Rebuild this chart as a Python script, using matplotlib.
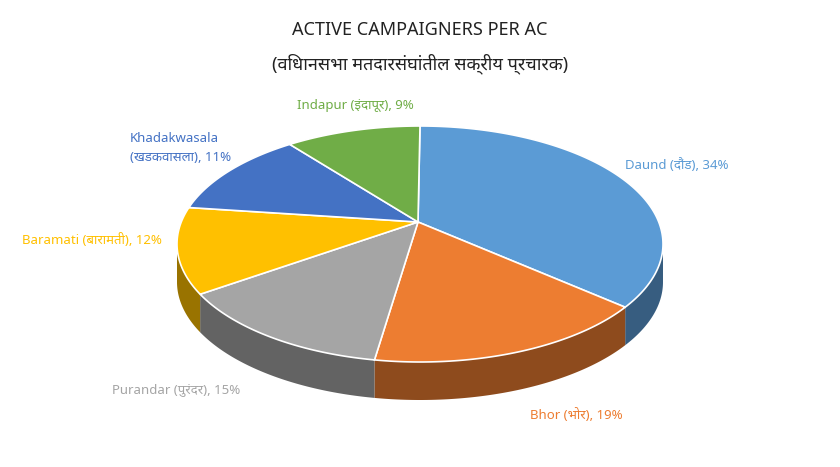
import numpy as np
import matplotlib
matplotlib.use("Agg")
import matplotlib.pyplot as plt
from matplotlib.patches import Polygon
import matplotlib.colors as mc

labels = ["Daund (दौंड)", "Bhor (भोर)", "Purandar (पुरंदर)", "Baramati (बारामती)",
          "Khadakwasala\n(खडकवासला)", "Indapur (इंदापूर)"]
values = [34, 19, 15, 12, 11, 9]
colors = ["#5B9BD5", "#ED7D31", "#A5A5A5", "#FFC000", "#4472C4", "#70AD47"]
label_pos = [(625, 165), (530, 415), (112, 390), (22, 240), (130, 148), (297, 105)]

plt.rcParams["font.family"] = ["Noto Sans", "Noto Sans CJK SC", "DejaVu Sans"]
fig = plt.figure(figsize=(8.4, 4.67), dpi=100)
ax = fig.add_axes([0, 0, 1, 1])
ax.set_xlim(0, 840); ax.set_ylim(467, 0); ax.axis("off")

cx, cy, rx, ry, depth = 420, 244, 243, 118, 38
vx, vy = 418, 222
tot = sum(values)
angs = [90.0]
for v in values:
    angs.append(angs[-1] - 360 * v / tot)

def pt(a, dy=0):
    r = np.radians(a)
    s = np.sin(r)
    # slight perspective: front lower half stretched
    yy = cy - ry * s * (1.0 if s > 0 else 1.0)
    return cx + rx * np.cos(r), yy + dy

def dark(c, f):
    r, g, b = mc.to_rgb(c)
    return (r * f, g * f, b * f)

for i, c in enumerate(colors):
    ts = np.linspace(angs[i], angs[i + 1], 200)
    ts = ts[np.sin(np.radians(ts)) <= 0.001]
    if len(ts) < 2:
        continue
    top = [pt(t) for t in ts]
    bot = [pt(t, depth) for t in ts[::-1]]
    ax.add_patch(Polygon(top + bot, closed=True, fc=dark(c, 0.6), ec="none"))
for i, c in enumerate(colors):
    ts = np.linspace(angs[i], angs[i + 1], 200)
    poly = [(vx, vy)] + [pt(t) for t in ts]
    ax.add_patch(Polygon(poly, closed=True, fc=c, ec="white", lw=1.2))

for i, lab in enumerate(labels):
    x, y = label_pos[i]
    ax.text(x, y, f"{lab}, {values[i]}%", color=colors[i], fontsize=9.5,
            fontweight="bold", ha="left", va="center",
            multialignment="left", linespacing=1.6)

ax.text(420, 30, "ACTIVE CAMPAIGNERS PER AC", ha="center", va="center", fontsize=13, color="#222222")
ax.text(420, 64, "(विधानसभा मतदारसंघांतील सक्रीय प्रचारक)", ha="center", va="center", fontsize=13, color="#222222")
fig.savefig("out.png", dpi=100, facecolor="white")
